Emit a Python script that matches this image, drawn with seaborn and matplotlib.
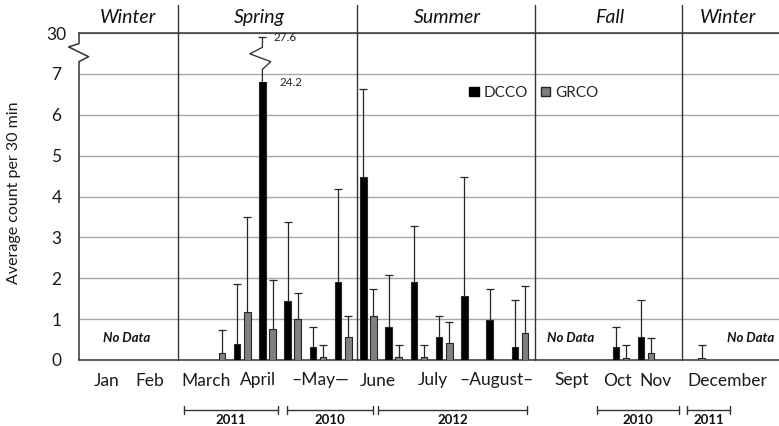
import numpy as np
import pandas as pd
import matplotlib
matplotlib.use("Agg")
import matplotlib.pyplot as plt
import seaborn as sns
from matplotlib.patches import Rectangle, Patch
from matplotlib.lines import Line2D

# ---- data -------------------------------------------------------------
n_slots = 28                      # sampling slots along the x axis
dcco_slot = [6, 7, 8, 9, 10, 11, 12, 13, 14, 15, 16, 17, 21, 22]
dcco_mean = [0.39, 24.2, 1.44, 0.32, 1.90, 4.48, 0.81, 1.90, 0.57, 1.57, 0.98, 0.32, 0.32, 0.56]
dcco_upper = [1.86, 27.6, 3.37, 0.81, 4.18, 6.64, 2.09, 3.28, 1.08, 4.48, 1.73, 1.48, 0.81, 1.47]
grco_slot = [5, 6, 7, 8, 9, 10, 11, 12, 13, 14, 17, 21, 22, 24]
grco_mean = [0.16, 1.17, 0.75, 1.00, 0.07, 0.57, 1.07, 0.07, 0.07, 0.41, 0.67, 0.06, 0.16, 0.06]
grco_upper = [0.73, 3.50, 1.96, 1.63, 0.36, 1.08, 1.74, 0.36, 0.36, 0.92, 1.82, 0.37, 0.55, 0.36]

month_labels = ["Jan", "Feb", "March", "April", "\u2013May\u2014", "June", "July",
                "\u2013August\u2013", "Sept", "Oct", "Nov", "December"]
season_labels = ["Winter", "Spring", "Summer", "Fall", "Winter"]
year_labels = ["2011", "2010", "2012", "2010", "2011"]
ytick_values = [0, 1, 2, 3, 4, 5, 6, 7, 30]

# ---- layout (positions on the slot axis) ------------------------------
month_pos = [0.64, 2.35, 4.56, 6.62, 9.08, 11.38, 13.55, 16.09, 19.06, 20.88, 22.39, 25.2]
season_pos = [1.48, 6.70, 14.11, 20.56, 25.24]
season_bounds = [3.46, 10.56, 17.61, 23.42]
year_spans = [(3.69, 7.42), (7.77, 11.18), (11.38, 17.30), (20.04, 23.31), (23.63, 25.32)]

# ---- long-form table for seaborn --------------------------------------
df = pd.concat([
    pd.DataFrame({"slot": [str(s) for s in dcco_slot], "species": "DCCO", "count": dcco_mean}),
    pd.DataFrame({"slot": [str(s) for s in grco_slot], "species": "GRCO", "count": grco_mean}),
], ignore_index=True)

sns.set_theme(style="white")
plt.rcParams["font.family"] = ["Lato", "DejaVu Sans"]

fig = plt.figure(figsize=(7.79, 4.26), dpi=100)
W, H = 779, 426
ax = fig.add_axes([79 / W, 66 / H, 706 / W, 327 / H])


# broken y axis: 0-7 linear, 7-30 squeezed into one unit
def fwd(v):
    v = np.asarray(v, dtype=float)
    return np.where(v <= 7, v, 7 + (v - 7) / 23.0)


def inv(y):
    y = np.asarray(y, dtype=float)
    return np.where(y <= 7, y, 7 + (y - 7) * 23.0)


ax.set_yscale("function", functions=(fwd, inv))

palette = {"DCCO": "#000000", "GRCO": "#808080"}
sns.barplot(data=df, x="slot", y="count", hue="species",
            order=[str(i) for i in range(n_slots)], hue_order=["DCCO", "GRCO"],
            palette=palette, width=0.8, gap=0.35, errorbar=None,
            edgecolor="#262626", linewidth=0.8, saturation=1, ax=ax, zorder=3)
ax.get_legend().remove()

ax.set_ylim(0, 30)
ax.set_xlim(-0.465, 27.5)

# truncate the off-scale bar at the axis break
clip_rect = Rectangle((0, 0), 1, 6.8 / 8, transform=ax.transAxes)
for p in ax.patches:
    if p.get_height() > 7:
        p.set_clip_path(clip_rect)

# upper error bars
for slots, mean, upper, off in [(dcco_slot, dcco_mean, dcco_upper, -0.2),
                                (grco_slot, grco_mean, grco_upper, 0.2)]:
    x = np.array(slots, dtype=float) + off
    m = np.array(mean)
    u = np.array(upper)
    cont = ax.errorbar(x, m, yerr=[np.zeros_like(m), u - m], fmt="none",
                       ecolor="#262626", elinewidth=0.9, capsize=3.2, capthick=0.9, zorder=4)
    for cl in cont[1]:
        if np.allclose(cl.get_ydata(), m):
            cl.set_visible(False)

# zigzag on the error line of the truncated bar
big = dcco_slot[int(np.argmax(dcco_mean))] - 0.2
ytr = ax.get_xaxis_transform()
zz_x = [big, big, big + 0.33, big - 0.5, big, big]
zz_y = [6.8, 7.11, 7.30, 7.49, 7.65, fwd(max(dcco_mean))]
ax.add_line(Line2D(zz_x, [v / 8 for v in zz_y], transform=ytr, color="#262626", lw=0.9, zorder=4))
ax.text(big + 0.66, 6.8 / 8, f"{max(dcco_mean):.1f}", transform=ytr, fontsize=8.5,
        ha="left", va="center", color="#222222")
ax.text(big + 0.42, max(dcco_upper), f"{max(dcco_upper):.1f}", fontsize=8.5,
        ha="left", va="center", color="#222222")

# gridlines and frame
ax.set_yticks(ytick_values, [str(v) for v in ytick_values])
ax.grid(axis="y", color="#a6a6a6", lw=1.0, zorder=0)
ax.set_axisbelow(True)
for side in ["top", "bottom", "right"]:
    ax.spines[side].set_color("#333333")
    ax.spines[side].set_linewidth(1.1)
ax.spines["left"].set_visible(False)
dx = 1 / 706
ax.add_line(Line2D([0, 0, -10.4 * dx, 9.6 * dx, 0, 0],
                   [1, 7.74 / 8, 7.66 / 8, 7.42 / 8, 7.30 / 8, 0],
                   transform=ax.transAxes, color="#333333", lw=1.1, clip_on=False, zorder=5))

ax.tick_params(axis="y", length=0, pad=16.2, labelsize=12.5, labelcolor="#1a1a1a")
for lab in ax.get_yticklabels():
    lab.set_horizontalalignment("center")

ax.set_xticks(month_pos, month_labels)
ax.tick_params(axis="x", length=0, pad=9, labelsize=12.5, labelcolor="#1a1a1a")
ax.set_xlabel("")
ax.set_ylabel("")
fig.text(14 / W, 1 - 193 / H, "Average count per 30 min", rotation=90,
         ha="center", va="center", fontsize=11.5, color="#1a1a1a")

# season dividers and names
for b in season_bounds:
    ax.axvline(b, ymin=0, ymax=1.086, color="#333333", lw=1.0, clip_on=False, zorder=2)
for pos, name in zip(season_pos, season_labels):
    ax.text(pos, 1.046, name, transform=ytr, ha="center", va="center",
            fontsize=14, style="italic", color="#111111")

# missing-data notes
for pos, ha in [(1.44, "center"), (19.02, "center"), (25.22, "left")]:
    ax.text(pos, 0.067, "No Data", transform=ytr, ha=ha, va="center",
            fontsize=9.5, style="italic", weight="bold", color="#111111")

# survey-year brackets
yb, tk = -0.153, 0.012
for (a, b), yr in zip(year_spans, year_labels):
    ax.add_line(Line2D([a, b], [yb, yb], transform=ytr, color="#333333", lw=1.0, clip_on=False))
    for e in (a, b):
        ax.add_line(Line2D([e, e], [yb - tk, yb + tk], transform=ytr, color="#333333",
                           lw=1.0, clip_on=False))
    ax.text((a + b) / 2, -0.1835, yr, transform=ytr, ha="center", va="center",
            fontsize=9.5, weight="bold", color="#111111")

# legend
handles = [Patch(facecolor="#000000", edgecolor="#000000"),
           Patch(facecolor="#808080", edgecolor="#262626")]
ax.legend(handles, ["DCCO", "GRCO"], ncol=2, frameon=False, fontsize=11,
          loc="center left", bbox_to_anchor=(0.553, 0.8165),
          handlelength=0.6, handleheight=0.6, handletextpad=0.3, columnspacing=0.9,
          borderpad=0, borderaxespad=0)

fig.savefig("out.png", dpi=100)
